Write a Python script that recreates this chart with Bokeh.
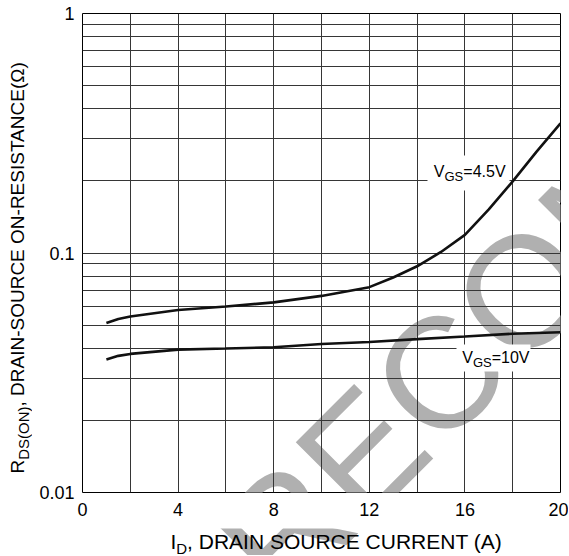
import math
from bokeh.plotting import figure
from bokeh.layouts import column, row
from bokeh.models import Range1d, FixedTicker, Label, BoxAnnotation
from bokeh.embed import file_html
from bokeh.resources import INLINE

# ---------------- data ----------------
id_vgs45 = [1, 1.5, 2, 4, 6, 8, 10, 12, 13, 14, 15, 16, 17, 18, 19, 20]
rds_vgs45 = [0.051, 0.053, 0.0543, 0.0578, 0.0598, 0.0622, 0.0662, 0.072, 0.079,
             0.088, 0.101, 0.119, 0.152, 0.199, 0.265, 0.348]
id_vgs10 = [1, 1.5, 2, 4, 6, 8, 10, 12, 14, 16, 18, 20]
rds_vgs10 = [0.0359, 0.0372, 0.0379, 0.0395, 0.0399, 0.0404, 0.0417, 0.0425,
             0.0437, 0.0448, 0.046, 0.0467]

x_ticks = [0, 4, 8, 12, 16, 20]
x_tick_labels = ["0", "4", "8", "12", "16", "20"]
y_ticks = [0.01, 0.1, 1]
y_tick_labels = ["0.01", "0.1", "1"]
x_grid = [0, 2, 4, 6, 8, 10, 12, 14, 16, 18, 20]
y_grid = [m * 10.0 ** e for e in (-2, -1) for m in range(1, 10)] + [1.0]

# ---------------- geometry (page pixels) ----------------
PAGE_W, PAGE_H = 568, 555
YT_W = 32                 # width of the strip holding the y-axis title
XT_H = 27                 # height of the strip holding the x-axis title
MAIN_W, MAIN_H = PAGE_W - YT_W, PAGE_H - XT_H
FL, FR, FT, FB = 82, 560, 13, 492   # frame edges on the page
X0, X1 = 0, 20
LY0, LY1 = -2, 0

FONT = "Liberation Sans"
GRID = "#363636"
WM_COLOR = "#b0b0b0"
BASE_SHIFT = 0.345   # em; places the alphabetic baseline at the anchor


def X(px):
    return X0 + (px - FL) / (FR - FL) * (X1 - X0)


def Y(py):
    return 10 ** (LY0 + (FB - py) / (FB - FT) * (LY1 - LY0))


def txt(fig, x, y, s, size, angle=0.0, color="black", level="annotation"):
    sh = BASE_SHIFT * size
    fig.add_layout(Label(x=x, y=y, text=s, angle=angle, text_font=FONT,
                         text_font_size=f"{size}px", text_color=color,
                         text_align="left", text_baseline="alphabetic",
                         x_offset=-math.sin(angle) * sh,
                         y_offset=math.cos(angle) * sh, level=level))


# ---------------- main chart ----------------
p = figure(width=MAIN_W, height=MAIN_H, output_backend="svg", toolbar_location=None,
           x_range=Range1d(X0, X1), y_range=Range1d(10 ** LY0, 10 ** LY1),
           y_axis_type="log")
p.min_border_left = FL - YT_W
p.min_border_right = PAGE_W - FR
p.min_border_top = FT
p.min_border_bottom = MAIN_H - FB
p.background_fill_color = "white"
p.border_fill_color = "white"
p.outline_line_color = "black"
p.outline_line_width = 1

p.xgrid.ticker = FixedTicker(ticks=x_grid)
p.ygrid.ticker = FixedTicker(ticks=y_grid)
p.grid.grid_line_color = GRID
p.grid.grid_line_width = 1
p.grid.grid_line_alpha = 1
p.ygrid.minor_grid_line_color = None

p.xaxis.ticker = FixedTicker(ticks=x_ticks)
p.yaxis.ticker = FixedTicker(ticks=y_ticks)
p.xaxis.major_label_overrides = {t: s for t, s in zip(x_ticks, x_tick_labels)}
p.yaxis.major_label_overrides = {t: s for t, s in zip(y_ticks, y_tick_labels)}
for ax in (p.xaxis, p.yaxis):
    ax.axis_line_color = None
    ax.major_tick_line_color = None
    ax.minor_tick_line_color = None
    ax.major_tick_out = 0
    ax.major_tick_in = 0
    ax.minor_tick_out = 0
    ax.minor_tick_in = 0
    ax.major_label_text_font = FONT
    ax.major_label_text_font_size = "18px"
    ax.major_label_text_color = "black"
p.xaxis.major_label_standoff = 10
p.yaxis.major_label_standoff = 8

WM_TEXT = "RECOMMENDED"
WM_SIZE = 158
WM_X, WM_Y = 282, 608     # page position of the watermark's start

# watermark (under everything)
txt(p, X(WM_X), Y(WM_Y), WM_TEXT, WM_SIZE, math.pi / 4, WM_COLOR, "image")

# white boxes behind the curve labels
for (l, r, t, b) in [(427, 509, 155, 190), (456, 530, 344, 371)]:
    p.add_layout(BoxAnnotation(left=X(l), right=X(r), top=Y(t), bottom=Y(b),
                               fill_color="white", fill_alpha=1, line_color=None,
                               level="underlay"))

p.line(id_vgs45, rds_vgs45, line_color="#111111", line_width=2.6)
p.line(id_vgs10, rds_vgs10, line_color="#111111", line_width=2.6)

# curve labels: V_GS=4.5V and V_GS=10V
txt(p, X(433.3), Y(176.7), "V", 16)
txt(p, X(444.0), Y(180.7), "GS", 13)
txt(p, X(462.8), Y(176.7), "=4.5V", 16)
txt(p, X(461.7), Y(362.7), "V", 16)
txt(p, X(472.4), Y(366.7), "GS", 13)
txt(p, X(491.2), Y(362.7), "=10V", 16)


# ---------------- title strips (page-pixel coordinates) ----------------
def strip(x0, x1, y0, y1, fy0, fy1):
    # fy0..fy1: page rows covered by the strip's frame
    f = figure(width=x1 - x0, height=y1 - y0, output_backend="svg",
               toolbar_location=None, x_range=Range1d(x0, x1),
               y_range=Range1d(fy1, fy0), x_axis_location=None, y_axis_location=None,
               min_border=0, title=None)
    f.min_border_left = 0
    f.min_border_right = 0
    f.min_border_top = fy0 - y0
    f.min_border_bottom = y1 - fy1
    f.outline_line_color = None
    f.background_fill_color = "white"
    f.border_fill_color = "white"
    f.grid.visible = False
    return f


ytf = strip(0, YT_W, 0, MAIN_H, FT, FB)
ang = math.pi / 2
txt(ytf, 23.5, 473.0, "R", 19, ang)
txt(ytf, 28.0, 459.3, "DS(ON)", 15, ang)
txt(ytf, 23.5, 406.0, ", DRAIN-SOURCE ON-RESISTANCE(\u03a9)", 19, ang)

xtf = strip(0, PAGE_W, MAIN_H, PAGE_H, MAIN_H, PAGE_H)
txt(xtf, WM_X, WM_Y, WM_TEXT, WM_SIZE, math.pi / 4, WM_COLOR, "image")
txt(xtf, 170.0, 548.3, "I", 21)
txt(xtf, 175.8, 553.5, "D", 15)
txt(xtf, 186.6, 548.3, ", DRAIN SOURCE CURRENT (A)", 21)

layout = column(row(ytf, p), xtf)
open("out.html", "w").write(file_html(layout, INLINE))
